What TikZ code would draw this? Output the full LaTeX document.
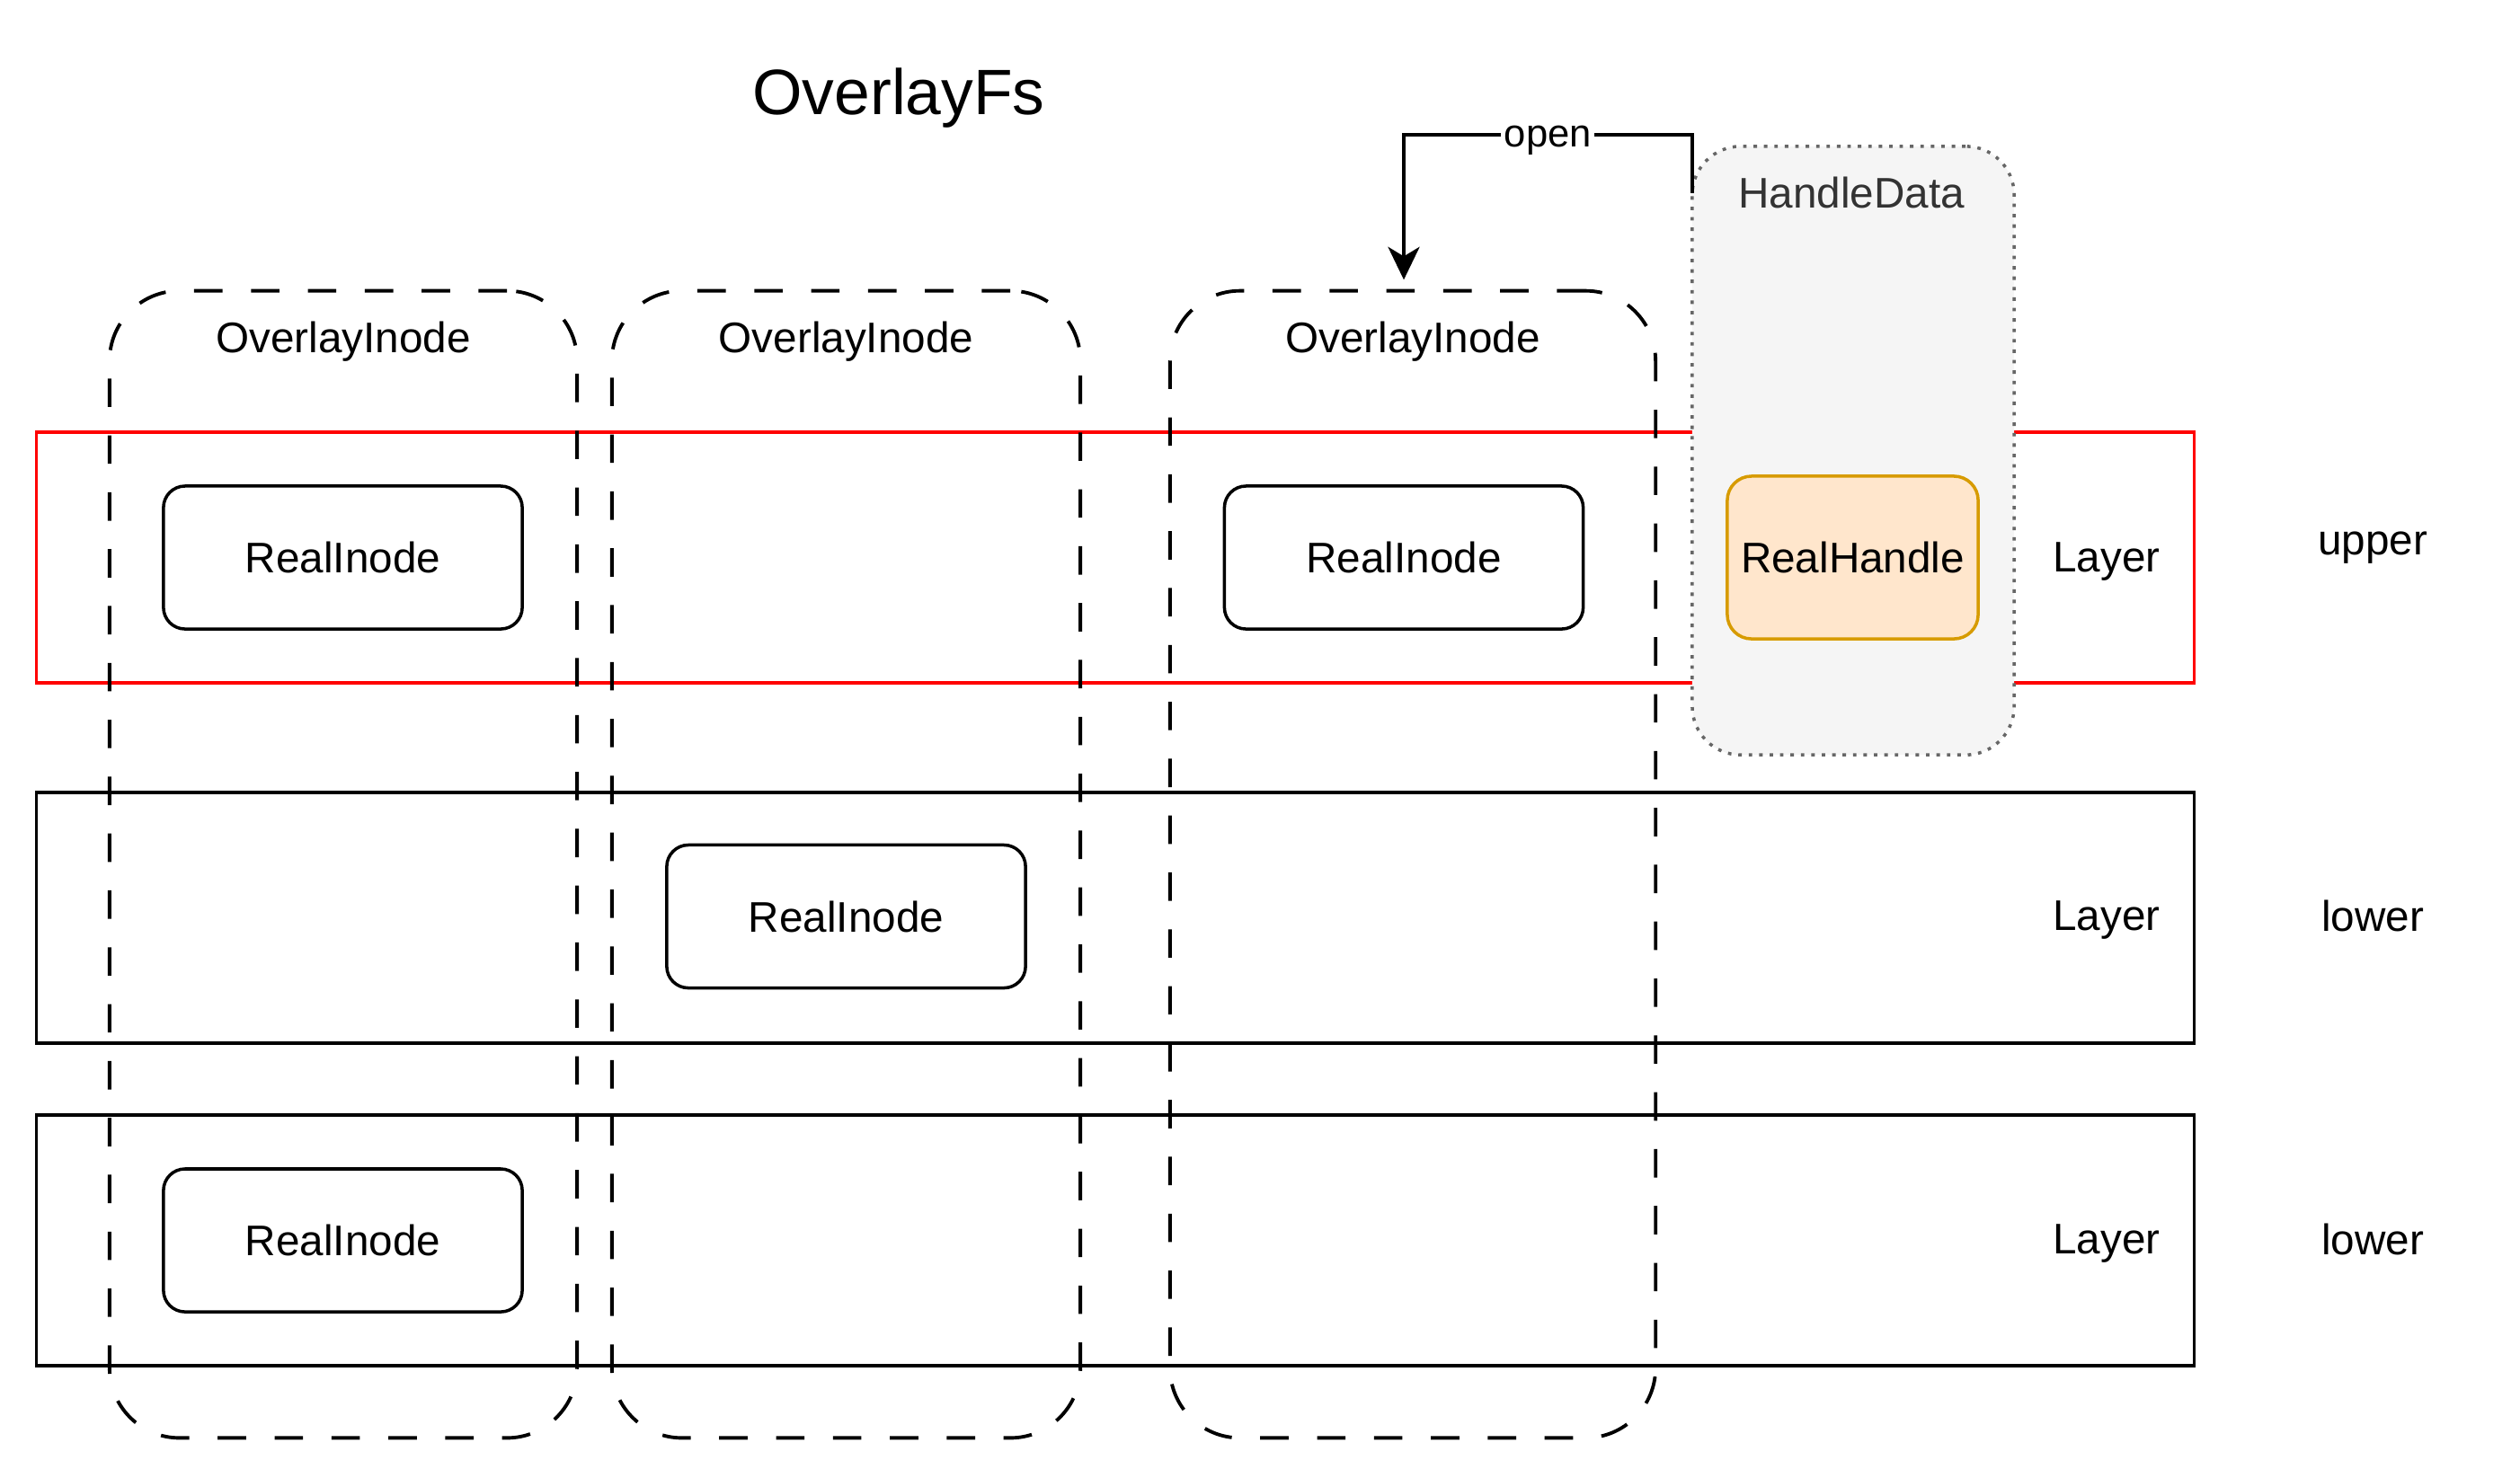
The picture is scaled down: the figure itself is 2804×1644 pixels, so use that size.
\documentclass[tikz,border=0pt]{standalone}
\usepackage{fontspec}
\setmainfont{Liberation Sans}
\usetikzlibrary{arrows.meta}
\definecolor{hdfill}{HTML}{F5F5F5}
\definecolor{hdline}{HTML}{666666}
\definecolor{hdtext}{HTML}{333333}
\definecolor{rhfill}{HTML}{FFE6CC}
\definecolor{rhline}{HTML}{D79B00}
\definecolor{layred}{HTML}{FF0000}
\begin{document}
\begin{tikzpicture}[x=0.01cm,y=-0.01cm,
 base/.style={font=\fontsize{13.55}{16}\selectfont},
 layerbox/.style={draw, line width=1pt, minimum width=24cm, minimum height=2.79cm, inner sep=0pt, outer sep=0pt},
 ovbox/.style={draw, line width=1.1pt, dash pattern=on 9pt off 9pt, rounded corners=0.78cm, minimum height=12.76cm, inner sep=0pt, outer sep=0pt},
 ribox/.style={draw, line width=1pt, fill=white, rounded corners=0.24cm, minimum width=3.99cm, minimum height=1.59cm, base, inner sep=0pt, outer sep=0pt},
 txt/.style={base, inner sep=0pt},
 conn/.style={line width=1pt, -{Stealth[length=10.4pt,width=10pt,inset=3pt]}, shorten >=3.5pt},
]
\useasboundingbox (0,0) rectangle (2804,1644);
% layers
\node[layerbox, draw=layred] (lu) at (1241,620.5) {};
\node[layerbox] (l1) at (1241,1021.5) {};
\node[layerbox] (l2) at (1241,1380.5) {};
% overlay inodes
\node[ovbox, minimum width=5.20cm] (ov1) at (382,962) {};
\node[ovbox, minimum width=5.21cm] (ov2) at (941.5,962) {};
\node[ovbox, minimum width=5.40cm] (ov3) at (1572,962) {};
\node[txt] (ovt1) at (382,380) {OverlayInode};
\node[txt] (ovt2) at (941.5,380) {OverlayInode};
\node[txt] (ovt3) at (1572,380) {OverlayInode};
% real inodes
\node[ribox] (ri1) at (381.5,620.5) {RealInode};
\node[ribox] (ri2) at (941.5,1020) {RealInode};
\node[ribox] (ri3) at (1562,620.5) {RealInode};
\node[ribox] (ri4) at (381.5,1380.5) {RealInode};
% handle data
\node[draw=hdline, fill=hdfill, line width=1pt, dash pattern=on 1.1pt off 2.2pt, rounded corners=0.54cm, minimum width=3.58cm, minimum height=6.77cm, inner sep=0pt, outer sep=0pt] (hd) at (2062,501.5) {};
\node[txt, text=hdtext] (hdt) at (2060,214) {HandleData};
\node[draw=rhline, fill=rhfill, line width=1pt, rounded corners=0.27cm, minimum width=2.79cm, minimum height=1.81cm, base, inner sep=0pt, outer sep=0pt] (rh) at (2061.5,620.5) {RealHandle};
% layer labels
\node[txt] (lyt1) at (2344,625) {Layer};
\node[txt] (lyt2) at (2344,1024) {Layer};
\node[txt] (lyt3) at (2344,1384) {Layer};
\node[txt] (up) at (2640,610) {upper};
\node[txt] (lo1) at (2640,1019) {lower};
\node[txt] (lo2) at (2640,1379) {lower};
% title
\node[inner sep=0pt, font=\fontsize{20.3}{24}\selectfont] (title) at (1000,109) {OverlayFs};
% connector
\draw[conn] ([yshift=2.865cm]hd.west) -- ++(0,-65) -| ([xshift=-0.1cm]ov3.north)
  node[pos=0.25, fill=white, inner sep=1pt, yshift=-0.06cm, font=\fontsize{12.4}{14}\selectfont] (open) {open};
\end{tikzpicture}
\end{document}
